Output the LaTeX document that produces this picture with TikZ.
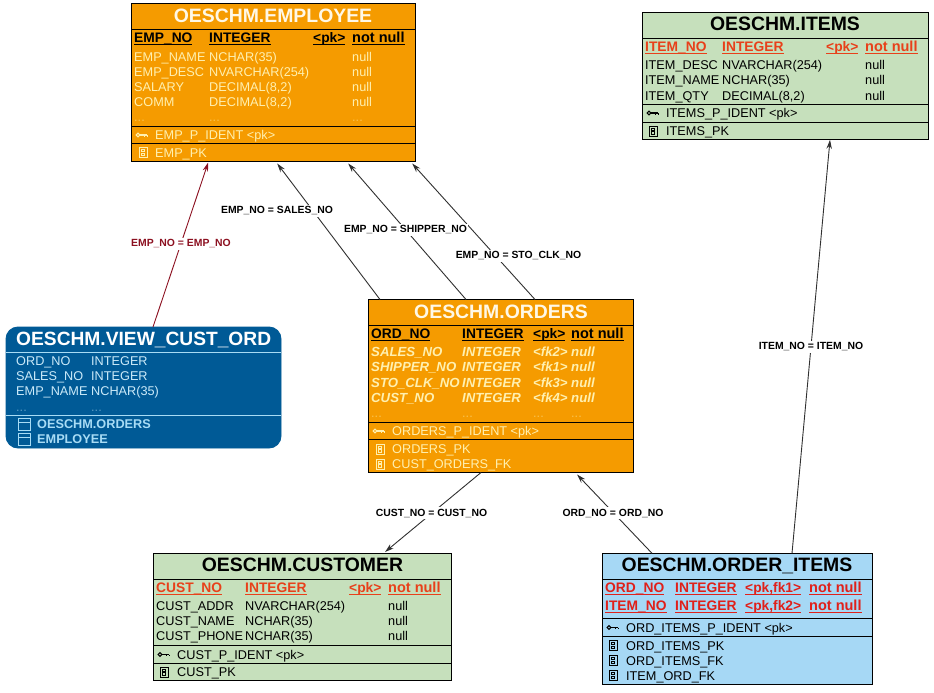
\documentclass[tikz,border=0pt]{standalone}
\usepackage{fontspec}
\setmainfont{Liberation Sans}
\usetikzlibrary{arrows.meta,fit}
\definecolor{orangefill}{HTML}{F59B00}
\definecolor{greenfill}{HTML}{C6E0BC}
\definecolor{bluefill}{HTML}{A6D8F5}
\definecolor{viewfill}{HTML}{005A96}
\definecolor{paleyellow}{HTML}{FFF0B0}
\definecolor{titlepale}{HTML}{FFF8E6}
\definecolor{paleblue}{HTML}{A8DCF5}
\definecolor{keyred}{HTML}{E8401A}
\definecolor{keyredb}{HTML}{E0201A}
\definecolor{linkred}{HTML}{8C1020}
\definecolor{linkgray}{HTML}{303030}
\newcounter{tn}
\newcommand\curcol{black}
\newcommand\keyul[1]{\setbox0\hbox{#1}\rlap{\rule[-2.4pt]{\wd0}{1.1pt}}\box0}
\newcommand\tcell[3]{\stepcounter{tn}\node[txt,text=\curcol] (t\arabic{tn}) at (#1,#2) {\fontsize{12.7}{14}\selectfont #3};}
\newcommand\dcell[2]{\stepcounter{tn}\node[txt,text=\curcol,text opacity=0.45] (t\arabic{tn}) at (#1,#2) {\fontsize{12.7}{14}\selectfont ...};}
\newcommand\kcell[3]{\stepcounter{tn}\node[txt,text=\curcol] (t\arabic{tn}) at (#1,#2) {\fontsize{13.8}{15}\selectfont\bfseries\keyul{#3}};}
\newcommand\ncell[2]{\stepcounter{tn}\node[txt,text=\curcol] (t\arabic{tn}) at (#1,#2) {\fontsize{14.5}{15}\selectfont\bfseries\keyul{not null}};}
\newcommand\icell[3]{\stepcounter{tn}\node[txt,text=\curcol] (t\arabic{tn}) at (#1,#2) {\fontsize{13.2}{15}\selectfont\bfseries\itshape #3};}
\newcommand\ttl[3]{\stepcounter{tn}\node[inner sep=0pt,anchor=base,yshift=-6.8pt,text=\curcol] (t\arabic{tn}) at (#1,#2) {\fontsize{19.4}{20}\selectfont\bfseries #3};}
\newcommand\keyicon[3]{\draw[\curcol,line width=1pt] (#1,#2) circle (1.9pt); \draw[\curcol,line width=1.2pt] (#1+2,#2)--(#1+9,#2);\draw[\curcol,line width=1pt](#1+6.5,#2)--(#1+6.5,#2+1.6)(#1+9,#2)--(#1+9,#2+1.6);}
\newcommand\idxicon[2]{\draw[\curcol,line width=0.9pt] (#1-4,#2-5) rectangle (#1+4,#2+5); \draw[\curcol,line width=0.8pt] (#1-1.8,#2-3) rectangle (#1+1.8,#2-0.8) (#1-1.8,#2+0.8) rectangle (#1+1.8,#2+3);}
\newcommand\tabicon[2]{\draw[\curcol,line width=0.8pt] (#1-6,#2-6) rectangle (#1+6,#2+6) (#1-6,#2-2) -- (#1+6,#2-2);}
\tikzset{
  txt/.style={anchor=base west,inner sep=0pt,yshift=-4.5pt},
  tablebox/.style={draw=black,line width=0.9pt,inner sep=0pt,outer sep=0pt,fit={#1}},
  sect/.style={draw=black,line width=0.9pt},
  link/.style={draw=linkgray,line width=0.9pt,-{Stealth[length=9pt,width=5.4pt]}},
  redlink/.style={draw=linkred,line width=0.9pt,-{Stealth[length=9pt,width=5.4pt]}},
  linklabel/.style={fill=white,inner sep=1.5pt,font=\fontsize{10.4}{12}\selectfont\bfseries},
}
\begin{document}
\begin{tikzpicture}[x=1pt,y=-1pt]
\useasboundingbox (0,0) rectangle (934,693);
\fill[white] (0,0) rectangle (934,693);

% EMPLOYEE
\node[tablebox={(131.7,3.7)(415,161.5)},fill=orangefill] (emp) {};
\draw[sect] (131.7,29.3)--(415,29.3) (131.7,126)--(415,126) (131.7,143.3)--(415,143.3);
\renewcommand\curcol{titlepale}
\ttl{273}{16}{OESCHM.EMPLOYEE}
\renewcommand\curcol{black}
\kcell{134}{38}{EMP\_NO}\kcell{209}{38}{INTEGER}\kcell{313}{38}{<pk>}\ncell{352}{38}
\renewcommand\curcol{paleyellow}
\tcell{134}{57}{EMP\_NAME}\tcell{209}{57}{NCHAR(35)}\tcell{352}{57}{null}
\tcell{134}{72}{EMP\_DESC}\tcell{209}{72}{NVARCHAR(254)}\tcell{352}{72}{null}
\tcell{134}{87}{SALARY}\tcell{209}{87}{DECIMAL(8,2)}\tcell{352}{87}{null}
\tcell{134}{102}{COMM}\tcell{209}{102}{DECIMAL(8,2)}\tcell{352}{102}{null}
\dcell{134}{117}\dcell{209}{117}\dcell{352}{117}
\keyicon{138}{135}{}\tcell{155}{135}{EMP\_P\_IDENT <pk>}
\idxicon{143}{152.5}\tcell{155}{152.5}{EMP\_PK}

% VIEW
\node[tablebox={(6,327)(281,448)},fill=viewfill,rounded corners=12pt,draw=viewfill] (view) {};
\draw[paleblue,line width=0.8pt] (6,352)--(281,352) (6,415)--(281,415);
\stepcounter{tn}\node[inner sep=0pt,anchor=base west,yshift=-6.8pt,text=white] (t\arabic{tn}) at (16,339) {\fontsize{19.2}{20}\selectfont\bfseries OESCHM.VIEW\_CUST\_ORD};
\renewcommand\curcol{paleblue!60!white}
\tcell{16}{361}{ORD\_NO}\tcell{91}{361}{INTEGER}
\tcell{16}{376}{SALES\_NO}\tcell{91}{376}{INTEGER}
\tcell{16}{391}{EMP\_NAME}\tcell{91}{391}{NCHAR(35)}
\dcell{16}{407}\dcell{91}{407}
\renewcommand\curcol{paleblue}
\tabicon{24}{424}
\tabicon{24}{439}
\stepcounter{tn}\node[txt,text=paleblue] (t\arabic{tn}) at (37,424) {\fontsize{12.7}{14}\selectfont\bfseries OESCHM.ORDERS};
\stepcounter{tn}\node[txt,text=paleblue] (t\arabic{tn}) at (37,439) {\fontsize{12.7}{14}\selectfont\bfseries EMPLOYEE};

% ORDERS
\node[tablebox={(368.5,299.5)(633.5,472.5)},fill=orangefill] (ord) {};
\draw[sect] (368.5,325.5)--(633.5,325.5) (368.5,422.5)--(633.5,422.5) (368.5,439.5)--(633.5,439.5);
\renewcommand\curcol{titlepale}
\ttl{501}{311.5}{OESCHM.ORDERS}
\renewcommand\curcol{black}
\kcell{371}{334}{ORD\_NO}\kcell{462}{334}{INTEGER}\kcell{533}{334}{<pk>}\ncell{571}{334}
\renewcommand\curcol{paleyellow}
\icell{371}{352}{SALES\_NO}\icell{462}{352}{INTEGER}\icell{533}{352}{<fk2>}\icell{571}{352}{null}
\icell{371}{367}{SHIPPER\_NO}\icell{462}{367}{INTEGER}\icell{533}{367}{<fk1>}\icell{571}{367}{null}
\icell{371}{383}{STO\_CLK\_NO}\icell{462}{383}{INTEGER}\icell{533}{383}{<fk3>}\icell{571}{383}{null}
\icell{371}{398}{CUST\_NO}\icell{462}{398}{INTEGER}\icell{533}{398}{<fk4>}\icell{571}{398}{null}
\dcell{371}{413}\dcell{462}{413}\dcell{533}{413}\dcell{571}{413}
\keyicon{375}{431}{}\tcell{392}{431}{ORDERS\_P\_IDENT <pk>}
\idxicon{380}{449}\tcell{392}{449}{ORDERS\_PK}
\idxicon{380}{464}\tcell{392}{464}{CUST\_ORDERS\_FK}

% CUSTOMER
\node[tablebox={(153.3,553)(451.7,680.7)},fill=greenfill] (cust) {};
\draw[sect] (153.3,579.7)--(451.7,579.7) (153.3,645.3)--(451.7,645.3) (153.3,663.3)--(451.7,663.3);
\renewcommand\curcol{black}
\ttl{302.5}{565}{OESCHM.CUSTOMER}
\renewcommand\curcol{keyred}
\kcell{156}{588}{CUST\_NO}\kcell{245}{588}{INTEGER}\kcell{349}{588}{<pk>}\ncell{388}{588}
\renewcommand\curcol{black}
\tcell{156}{606}{CUST\_ADDR}\tcell{245}{606}{NVARCHAR(254)}\tcell{388}{606}{null}
\tcell{156}{621}{CUST\_NAME}\tcell{245}{621}{NCHAR(35)}\tcell{388}{621}{null}
\tcell{156}{636}{CUST\_PHONE}\tcell{245}{636}{NCHAR(35)}\tcell{388}{636}{null}
\keyicon{160}{654.5}{}\tcell{177}{654.5}{CUST\_P\_IDENT <pk>}
\idxicon{164}{672}\tcell{177}{672}{CUST\_PK}

% ORDER_ITEMS
\node[tablebox={(602.3,553.3)(872.3,684.3)},fill=bluefill] (oi) {};
\draw[sect] (602.3,579.3)--(872.3,579.3) (602.3,618.3)--(872.3,618.3) (602.3,636.3)--(872.3,636.3);
\renewcommand\curcol{black}
\ttl{737}{565}{OESCHM.ORDER\_ITEMS}
\renewcommand\curcol{keyredb}
\kcell{605}{588}{ORD\_NO}\kcell{675}{588}{INTEGER}\kcell{745}{588}{<pk,fk1>}\ncell{809}{588}
\kcell{605}{606}{ITEM\_NO}\kcell{675}{606}{INTEGER}\kcell{745}{606}{<pk,fk2>}\ncell{809}{606}
\renewcommand\curcol{black}
\keyicon{609}{627.5}{}\tcell{626}{627.5}{ORD\_ITEMS\_P\_IDENT <pk>}
\idxicon{613}{645.5}\tcell{626}{645.5}{ORD\_ITEMS\_PK}
\idxicon{613}{660.5}\tcell{626}{660.5}{ORD\_ITEMS\_FK}
\idxicon{613}{675.5}\tcell{626}{675.5}{ITEM\_ORD\_FK}

% ITEMS
\node[tablebox={(642.3,12.3)(928.3,139.3)},fill=greenfill] (items) {};
\draw[sect] (642.3,38.3)--(928.3,38.3) (642.3,104.3)--(928.3,104.3) (642.3,122.3)--(928.3,122.3);
\renewcommand\curcol{black}
\ttl{785}{24}{OESCHM.ITEMS}
\renewcommand\curcol{keyred}
\kcell{645}{47}{ITEM\_NO}\kcell{722}{47}{INTEGER}\kcell{826}{47}{<pk>}\ncell{865}{47}
\renewcommand\curcol{black}
\tcell{645}{65}{ITEM\_DESC}\tcell{722}{65}{NVARCHAR(254)}\tcell{865}{65}{null}
\tcell{645}{80}{ITEM\_NAME}\tcell{722}{80}{NCHAR(35)}\tcell{865}{80}{null}
\tcell{645}{96}{ITEM\_QTY}\tcell{722}{96}{DECIMAL(8,2)}\tcell{865}{96}{null}
\keyicon{649}{113}{}\tcell{666}{113}{ITEMS\_P\_IDENT <pk>}
\idxicon{653}{131}\tcell{666}{131}{ITEMS\_PK}

% Connectors
\draw[redlink] ([xshift=147pt]view.north west) -- ([xshift=76.5pt,yshift=-1pt]emp.south west);
\draw[link] ([xshift=11.5pt]ord.north west) -- ([xshift=145.5pt,yshift=-2pt]emp.south west);
\draw[link] ([xshift=97.5pt]ord.north west) -- ([xshift=216.5pt,yshift=-2pt]emp.south west);
\draw[link] ([xshift=166.5pt]ord.north west) -- ([xshift=280.5pt,yshift=-2pt]emp.south west);
\draw[link] ([xshift=112.5pt]ord.south west) -- ([xshift=231.7pt,yshift=1pt]cust.north west);
\draw[link] ([xshift=49.7pt]oi.north west) -- ([xshift=208.5pt,yshift=-2pt]ord.south west);
\draw[link] ([xshift=189.7pt]oi.north west) -- ([xshift=187.7pt,yshift=-0.5pt]items.south west);

% Connector labels
\node[linklabel,text=linkred] (l1) at (181,244) {EMP\_NO = EMP\_NO};
\node[linklabel] (l2) at (277,211) {EMP\_NO = SALES\_NO};
\node[linklabel] (l3) at (405.5,230) {EMP\_NO = SHIPPER\_NO};
\node[linklabel] (l4) at (518.5,256) {EMP\_NO = STO\_CLK\_NO};
\node[linklabel] (l5) at (431.5,513) {CUST\_NO = CUST\_NO};
\node[linklabel] (l6) at (613,513) {ORD\_NO = ORD\_NO};
\node[linklabel] (l7) at (811,347) {ITEM\_NO = ITEM\_NO};
\end{tikzpicture}
\end{document}
